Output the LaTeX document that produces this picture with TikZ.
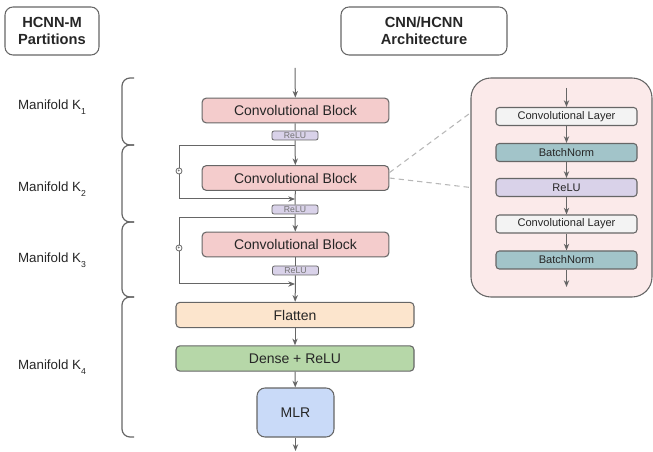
\documentclass[tikz,border=0pt]{standalone}
\usepackage{fontspec}
\setmainfont{Liberation Sans}
\usetikzlibrary{arrows.meta}
\definecolor{edge}{HTML}{666666}
\definecolor{convfill}{HTML}{F4CCCC}
\definecolor{relufill}{HTML}{D9D2E9}
\definecolor{flatfill}{HTML}{FCE5CD}
\definecolor{densefill}{HTML}{B6D7A8}
\definecolor{mlrfill}{HTML}{C9DAF8}
\definecolor{panelfill}{HTML}{FBEAEA}
\definecolor{layerfill}{HTML}{F3F3F3}
\definecolor{bnfill}{HTML}{A2C4C9}
\definecolor{dashgray}{HTML}{B7B7B7}
\tikzset{
  block/.style={draw=edge, line width=0.8pt, rounded corners=3pt, inner sep=0pt,
    text=black!85, font=\fontsize{10.5}{12}\selectfont},
  header/.style={block, rounded corners=6pt, minimum height=36pt,
    font=\bfseries\fontsize{11}{13}\selectfont, align=center},
  conv/.style={block, fill=convfill, minimum width=140pt, minimum height=18.5pt},
  relutag/.style={block, line width=0.6pt, rounded corners=1.5pt, fill=relufill,
    minimum width=34.5pt, minimum height=6.75pt, text=black!55,
    font=\fontsize{6.5}{7}\selectfont},
  wide/.style={block, minimum width=178.5pt, minimum height=19pt},
  layer/.style={block, rounded corners=2.5pt, minimum width=105.75pt, minimum height=13.5pt,
    font=\fontsize{8.3}{10}\selectfont},
  addop/.style={draw=edge, circle, fill=white, line width=0.6pt, inner sep=0pt,
    minimum size=4.5pt, font=\fontsize{3.5}{4}\selectfont},
  flow/.style={draw=edge, line width=0.75pt, -{Stealth[length=5pt,width=4pt,inset=1.5pt]}},
  link/.style={draw=edge, line width=0.75pt},
  brace/.style={draw=edge, line width=0.9pt, rounded corners=6pt},
  zoomline/.style={draw=dashgray, line width=0.8pt, dash pattern=on 4pt off 3pt},
  manifold/.style={text=black!85, font=\fontsize{10}{12}\selectfont}
}
\newcommand{\ksub}[1]{K\raisebox{-0.7ex}{\fontsize{6.5}{7}\selectfont #1}}
\begin{document}
\begin{tikzpicture}[x=0.75pt, y=-0.75pt]
  \useasboundingbox (0,0) rectangle (653,452);
  % headers
  \node [header, minimum width=70.5pt] (part) at (52,31) {HCNN-M\\Partitions};
  \node [header, minimum width=124.5pt] (arch) at (424,31) {CNN/HCNN\\Architecture};
  %
  % main column
  \coordinate (in) at (295,68);
  \node [conv] (conv1) at (295.5,110.5) {Convolutional Block};
  \node [relutag] (relu1) at (295,135.5) {ReLU};
  \node [conv] (conv2) at (295.5,178) {Convolutional Block};
  \node [relutag] (relu2) at (295,209.5) {ReLU};
  \node [conv] (conv3) at (295.5,244.5) {Convolutional Block};
  \node [relutag] (relu3) at (295.5,270.5) {ReLU};
  \node [wide, fill=flatfill] (flat) at (295,315) {Flatten};
  \node [wide, fill=densefill] (dense) at (295,358.5) {Dense + ReLU};
  \node [block, fill=mlrfill, rounded corners=6pt, minimum width=57.75pt,
    minimum height=36.75pt] (mlr) at (295.5,412.5) {MLR};
  \coordinate (out) at (295.5,451);
  %
  \draw [flow] (in) -- (conv1);
  \draw [link] (conv1) -- (relu1);
  \draw [flow] (relu1) -- (conv2);
  \draw [link] (conv2) -- (relu2);
  \draw [flow] (relu2) -- (conv3);
  \draw [link] (conv3) -- (relu3);
  \draw [flow] (relu3) -- (flat);
  \draw [flow] (flat) -- (dense);
  \draw [flow] (dense) -- (mlr);
  \draw [flow] (mlr) -- (out);
  %
  % skip connections
  \coordinate (fork1) at (295,146);
  \coordinate (join1) at (295,199);
  \node [addop] (add1) at (179,171) {+};
  \draw [link] (fork1) -| (add1.north);
  \draw [flow] (add1.south) |- (join1);
  %
  \coordinate (fork2) at (295,218);
  \coordinate (join2) at (295,284);
  \node [addop] (add2) at (179,248) {+};
  \draw [link] (fork2) -| (add2.north);
  \draw [flow] (add2.south) |- (join2);
  %
  % partitions
  \draw [brace] (134,78) -| (122,145) -- (134,145);
  \draw [brace] (134,145) -| (122,222) -- (134,222);
  \draw [brace] (134,222) -| (122,297) -- (134,297);
  \draw [brace] (134,297) -| (122,437) -- (134,437);
  \node [manifold] (k1) at (52,107) {Manifold \ksub{1}};
  \node [manifold] (k2) at (52,189) {Manifold \ksub{2}};
  \node [manifold] (k3) at (52,260) {Manifold \ksub{3}};
  \node [manifold] (k4) at (52,367) {Manifold \ksub{4}};
  %
  % block detail
  \node [draw=edge, line width=0.8pt, fill=panelfill, rounded corners=15pt,
    minimum width=135.75pt, minimum height=164.25pt] (panel) at (561.5,187.5) {};
  \coordinate (pin) at (566.5,88);
  \node [layer, fill=layerfill] (cl1) at (566.5,116.5) {Convolutional Layer};
  \node [layer, fill=bnfill] (bn1) at (566.5,152.5) {BatchNorm};
  \node [layer, fill=relufill] (rl) at (566.5,187.5) {ReLU};
  \node [layer, fill=layerfill] (cl2) at (566.5,224) {Convolutional Layer};
  \node [layer, fill=bnfill] (bn2) at (566.5,260) {BatchNorm};
  \coordinate (pout) at (566.5,287);
  \draw [flow] (pin) -- (cl1);
  \draw [flow] (cl1) -- (bn1);
  \draw [flow] (bn1) -- (rl);
  \draw [flow] (rl) -- (cl2);
  \draw [flow] (cl2) -- (bn2);
  \draw [flow] (bn2) -- (pout);
  %
  \draw [zoomline] ([yshift=4pt]conv2.east) -- ([yshift=56pt]panel.west);
  \draw [zoomline] (conv2.east) -- (panel.west);
\end{tikzpicture}
\end{document}
